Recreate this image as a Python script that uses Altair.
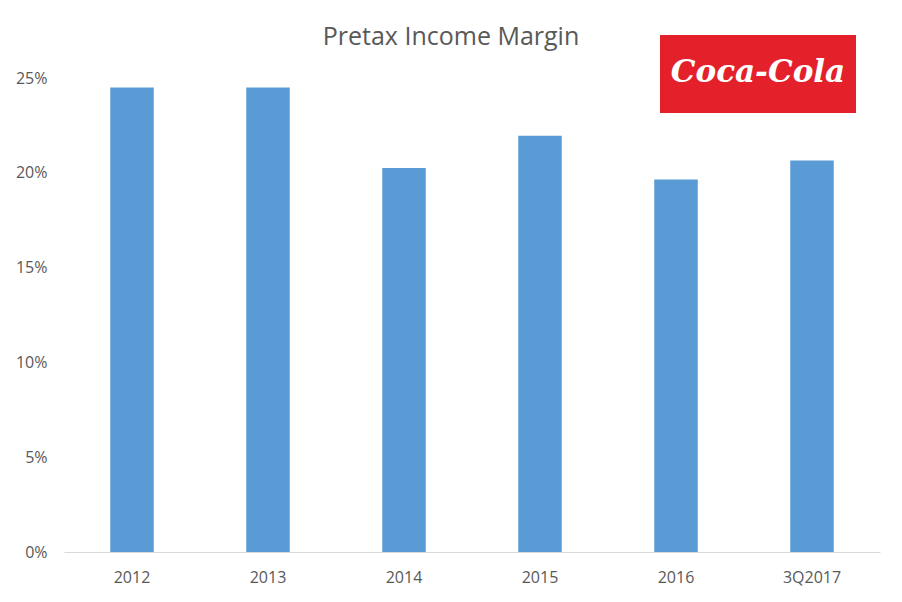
import altair as alt
import pandas as pd

years = ["2012", "2013", "2014", "2015", "2016", "3Q2017"]
margins = [0.245, 0.245, 0.2025, 0.2195, 0.1965, 0.2065]
y_ticks = [0, 0.05, 0.10, 0.15, 0.20, 0.25]
title_text = ["Pretax Income Margin"]
logo_text_val = ["Coca-Cola"]

df = pd.DataFrame({"year": years, "margin": margins})

FONT = "Open Sans"
GREY = "#595959"

bars = alt.Chart(df).mark_bar(color="#5b9bd5").encode(
    x=alt.X("year:N", sort=years, title=None,
            scale=alt.Scale(paddingInner=0.68, paddingOuter=0.34),
            axis=alt.Axis(labelAngle=0, ticks=False, domainColor="#d9d9d9",
                          labelFontSize=16, labelColor=GREY, labelFont=FONT,
                          labelPadding=17)),
    y=alt.Y("margin:Q", title=None,
            scale=alt.Scale(domain=[0, 0.25], nice=False),
            axis=alt.Axis(values=y_ticks, format=".0%", grid=False, domain=False,
                          ticks=False, labelFontSize=16, labelColor=GREY,
                          labelFont=FONT, labelPadding=17)),
)

title = alt.Chart(pd.DataFrame({"t": title_text})).mark_text(
    font=FONT, fontSize=25, color=GREY, align="center", baseline="middle"
).encode(x=alt.value(387), y=alt.value(-41), text="t:N")

logo_df = pd.DataFrame({"t": logo_text_val})
logo_bg = alt.Chart(logo_df).mark_rect(color="#e4202b").encode(
    x=alt.value(596), x2=alt.value(792), y=alt.value(-43), y2=alt.value(35)
)
logo_text = alt.Chart(logo_df).mark_text(
    color="white", font="DejaVu Serif", fontStyle="italic", fontWeight="bold",
    fontSize=31, align="center", baseline="middle"
).encode(x=alt.value(694), y=alt.value(-5), text="t:N")

chart = alt.layer(bars, title, logo_bg, logo_text).properties(
    width=816, height=474,
    padding={"left": 56, "top": 70, "right": 10, "bottom": 40},
    autosize=alt.AutoSizeParams(type="none"),
).configure_view(stroke=None)

chart.save("out.html", embed_options={"renderer": "svg", "actions": False})
